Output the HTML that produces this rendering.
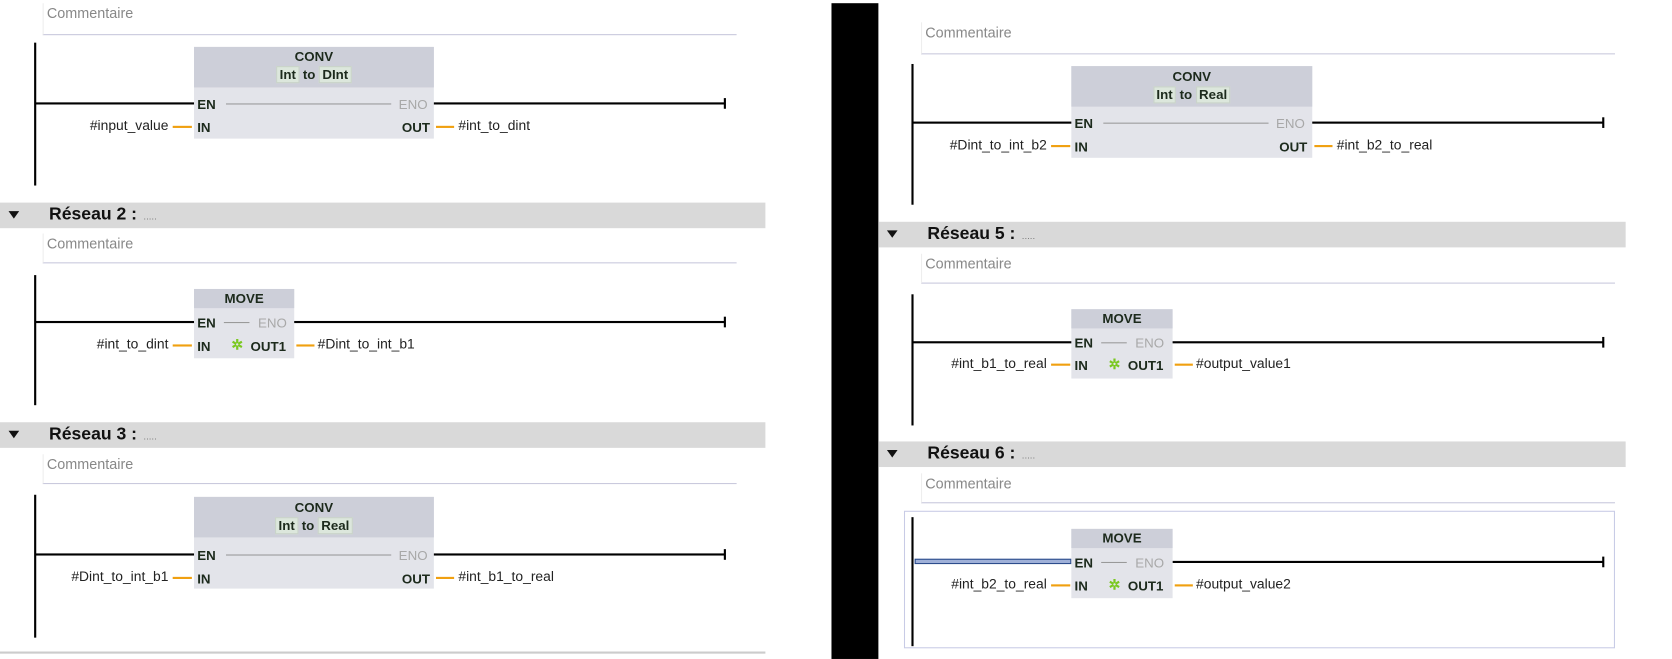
<!DOCTYPE html>
<html><head><meta charset="utf-8"><style>
html,body{margin:0;padding:0;background:#fff;overflow:hidden}
body{width:1672px;height:659px;position:relative;font-family:"Liberation Sans",sans-serif}
#c{position:absolute;left:0;top:0;width:1550px;height:618px;transform-origin:0 0;transform:scale(1.066,1.0663)}
.a{position:absolute}
.t{position:absolute;font-size:13px;white-space:nowrap;color:#222;line-height:14px}
.cm{color:#888;font-size:13.5px}
.hl{position:absolute;height:2px;background:#000}
.vl{position:absolute;width:2px;background:#000}
.or{position:absolute;height:2px;background:#f0a010}
.blk{position:absolute;background:#e3e4ea}
.hd{position:absolute;left:0;top:0;right:0;background:#cdcfd9}
.b{font-weight:bold;color:#1c2a1c;font-size:12.5px}
.g{color:#a8a8a8;font-size:12.5px}
.bar{position:absolute;height:24px;background:#d9d9d9}
.bar .tr{position:absolute;left:8px;top:8px;width:0;height:0;border-left:5px solid transparent;border-right:5px solid transparent;border-top:7px solid #111}
.bar .rt{position:absolute;left:46px;top:2px;font-size:16.5px;font-weight:bold;color:#111}
.bar .rt span{font-weight:normal;font-size:9px;color:#777;margin-left:6px}
.cbox{position:absolute;border-bottom:1px solid #c8c8dc;border-left:1px solid #eee;background:#fff}
.tag{background:#dce7dc;border:1px solid #c9d3c9;padding:0 2px}
.ast{color:#7ac820;font-weight:bold}
</style></head><body><div id="c">

<!-- left panel -->
<div class="a" style="left:0;top:611px;width:718px;height:2px;background:#ccc"></div>
<div class="cbox" style="left:40px;top:3px;width:650px;height:29px"></div>
<div class="t cm" style="left:44px;top:6px">Commentaire</div>
<div class="vl" style="left:32px;top:40px;height:134px"></div>
<div class="hl" style="left:33px;top:96px;width:647px"></div><div class="vl" style="left:679px;top:92px;height:10px"></div>
<div class="blk" style="left:182px;top:44px;width:225px;height:86px"><div class="hd" style="height:38px"></div></div>
<div class="t b" style="left:182px;top:46px;width:225px;text-align:center">CONV</div>
<div class="t b" style="left:182px;top:63px;width:225px;text-align:center"><span class="tag">Int</span> to <span class="tag">DInt</span></div>
<div class="t b" style="left:185px;top:91px">EN</div><div class="a" style="left:212px;top:97px;width:155px;height:1px;background:#999"></div>
<div class="t g" style="left:374px;top:91px">ENO</div>
<div class="t b" style="left:185px;top:113px">IN</div><div class="t b" style="left:377px;top:113px">OUT</div>
<div class="or" style="left:162px;top:118px;width:18px"></div><div class="t" style="left:0;width:158px;text-align:right;top:111px">#input_value</div>
<div class="or" style="left:409px;top:118px;width:17px"></div><div class="t" style="left:430px;top:111px">#int_to_dint</div>

<div class="bar" style="left:0;top:190px;width:718px"><div class="tr"></div><div class="rt">Réseau 2 :<span>.....</span></div></div>
<div class="cbox" style="left:40px;top:219px;width:650px;height:27px"></div>
<div class="t cm" style="left:44px;top:222px">Commentaire</div>
<div class="vl" style="left:32px;top:258px;height:122px"></div>
<div class="hl" style="left:33px;top:301px;width:647px"></div><div class="vl" style="left:679px;top:297px;height:10px"></div>
<div class="blk" style="left:182px;top:271px;width:94px;height:65px"><div class="hd" style="height:18px"></div></div>
<div class="t b" style="left:182px;top:273px;width:94px;text-align:center">MOVE</div>
<div class="t b" style="left:185px;top:296px">EN</div><div class="a" style="left:210px;top:302px;width:24px;height:1px;background:#999"></div>
<div class="t g" style="left:242px;top:296px">ENO</div>
<div class="t b" style="left:185px;top:318px">IN</div><div class="t ast" style="left:217px;top:317px">✲</div><div class="t b" style="left:235px;top:318px">OUT1</div>
<div class="or" style="left:162px;top:323px;width:18px"></div><div class="t" style="left:0;width:158px;text-align:right;top:316px">#int_to_dint</div>
<div class="or" style="left:278px;top:323px;width:17px"></div><div class="t" style="left:298px;top:316px">#Dint_to_int_b1</div>

<div class="bar" style="left:0;top:396px;width:718px"><div class="tr"></div><div class="rt">Réseau 3 :<span>.....</span></div></div>
<div class="cbox" style="left:40px;top:426px;width:650px;height:27px"></div>
<div class="t cm" style="left:44px;top:429px">Commentaire</div>
<div class="vl" style="left:32px;top:464px;height:134px"></div>
<div class="hl" style="left:33px;top:519px;width:647px"></div><div class="vl" style="left:679px;top:515px;height:10px"></div>
<div class="blk" style="left:182px;top:466px;width:225px;height:86px"><div class="hd" style="height:38px"></div></div>
<div class="t b" style="left:182px;top:469px;width:225px;text-align:center">CONV</div>
<div class="t b" style="left:182px;top:486px;width:225px;text-align:center"><span class="tag">Int</span> to <span class="tag">Real</span></div>
<div class="t b" style="left:185px;top:514px">EN</div><div class="a" style="left:212px;top:520px;width:155px;height:1px;background:#999"></div>
<div class="t g" style="left:374px;top:514px">ENO</div>
<div class="t b" style="left:185px;top:536px">IN</div><div class="t b" style="left:377px;top:536px">OUT</div>
<div class="or" style="left:162px;top:541px;width:18px"></div><div class="t" style="left:0;width:158px;text-align:right;top:534px">#Dint_to_int_b1</div>
<div class="or" style="left:409px;top:541px;width:17px"></div><div class="t" style="left:430px;top:534px">#int_b1_to_real</div>

<!-- black separator -->
<div class="a" style="left:780px;top:3px;width:44px;height:615px;background:#000"></div>

<!-- right panel -->
<div class="cbox" style="left:864px;top:21px;width:650px;height:29px"></div>
<div class="t cm" style="left:868px;top:24px">Commentaire</div>
<div class="vl" style="left:855px;top:60px;height:132px"></div>
<div class="hl" style="left:856px;top:114px;width:648px"></div><div class="vl" style="left:1503px;top:110px;height:10px"></div>
<div class="blk" style="left:1005px;top:62px;width:226px;height:86px"><div class="hd" style="height:38px"></div></div>
<div class="t b" style="left:1005px;top:65px;width:226px;text-align:center">CONV</div>
<div class="t b" style="left:1005px;top:82px;width:226px;text-align:center"><span class="tag">Int</span> to <span class="tag">Real</span></div>
<div class="t b" style="left:1008px;top:109px">EN</div><div class="a" style="left:1035px;top:115px;width:155px;height:1px;background:#999"></div>
<div class="t g" style="left:1197px;top:109px">ENO</div>
<div class="t b" style="left:1008px;top:131px">IN</div><div class="t b" style="left:1200px;top:131px">OUT</div>
<div class="or" style="left:986px;top:136px;width:18px"></div><div class="t" style="left:824px;width:158px;text-align:right;top:129px">#Dint_to_int_b2</div>
<div class="or" style="left:1233px;top:136px;width:17px"></div><div class="t" style="left:1254px;top:129px">#int_b2_to_real</div>

<div class="bar" style="left:824px;top:208px;width:701px"><div class="tr"></div><div class="rt">Réseau 5 :<span>.....</span></div></div>
<div class="cbox" style="left:864px;top:238px;width:650px;height:27px"></div>
<div class="t cm" style="left:868px;top:241px">Commentaire</div>
<div class="vl" style="left:855px;top:276px;height:123px"></div>
<div class="hl" style="left:856px;top:320px;width:648px"></div><div class="vl" style="left:1503px;top:316px;height:10px"></div>
<div class="blk" style="left:1005px;top:290px;width:95px;height:65px"><div class="hd" style="height:18px"></div></div>
<div class="t b" style="left:1005px;top:292px;width:95px;text-align:center">MOVE</div>
<div class="t b" style="left:1008px;top:315px">EN</div><div class="a" style="left:1033px;top:321px;width:24px;height:1px;background:#999"></div>
<div class="t g" style="left:1065px;top:315px">ENO</div>
<div class="t b" style="left:1008px;top:336px">IN</div><div class="t ast" style="left:1040px;top:335px">✲</div><div class="t b" style="left:1058px;top:336px">OUT1</div>
<div class="or" style="left:986px;top:341px;width:18px"></div><div class="t" style="left:824px;width:158px;text-align:right;top:334px">#int_b1_to_real</div>
<div class="or" style="left:1102px;top:341px;width:17px"></div><div class="t" style="left:1122px;top:334px">#output_value1</div>

<div class="bar" style="left:824px;top:414px;width:701px"><div class="tr"></div><div class="rt">Réseau 6 :<span>.....</span></div></div>
<div class="cbox" style="left:864px;top:444px;width:650px;height:27px"></div>
<div class="t cm" style="left:868px;top:447px">Commentaire</div>
<div class="a" style="left:848px;top:479px;width:665px;height:127px;border:1px solid #c8cbe6"></div>
<div class="vl" style="left:855px;top:485px;height:121px"></div>
<div class="hl" style="left:1100px;top:526px;width:404px"></div><div class="vl" style="left:1503px;top:522px;height:10px"></div>
<div class="a" style="left:858px;top:524px;width:145px;height:3px;border:1px solid #2b4c8c;background:#9fb0d8"></div>
<div class="blk" style="left:1005px;top:496px;width:95px;height:65px"><div class="hd" style="height:18px"></div></div>
<div class="t b" style="left:1005px;top:498px;width:95px;text-align:center">MOVE</div>
<div class="t b" style="left:1008px;top:521px">EN</div><div class="a" style="left:1033px;top:527px;width:24px;height:1px;background:#999"></div>
<div class="t g" style="left:1065px;top:521px">ENO</div>
<div class="t b" style="left:1008px;top:543px">IN</div><div class="t ast" style="left:1040px;top:542px">✲</div><div class="t b" style="left:1058px;top:543px">OUT1</div>
<div class="or" style="left:986px;top:548px;width:18px"></div><div class="t" style="left:824px;width:158px;text-align:right;top:541px">#int_b2_to_real</div>
<div class="or" style="left:1102px;top:548px;width:17px"></div><div class="t" style="left:1122px;top:541px">#output_value2</div>

</div></body></html>
